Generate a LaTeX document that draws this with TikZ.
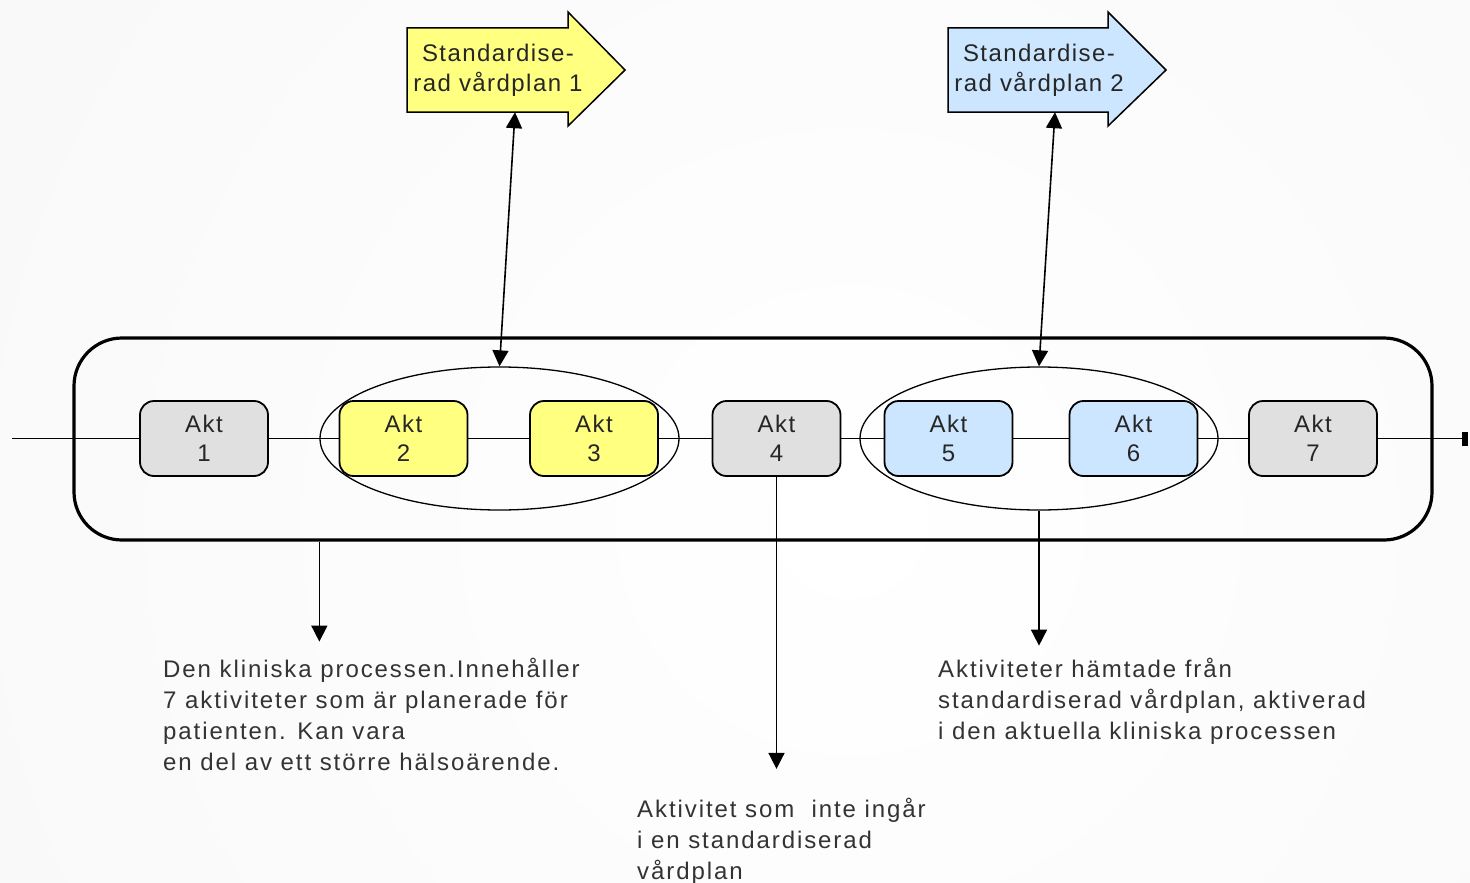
\documentclass[tikz,border=0pt]{standalone}
\usepackage{fontspec}
\setmainfont{Liberation Sans}
\usetikzlibrary{shapes.geometric,arrows.meta}
\definecolor{aktgray}{HTML}{E0E0E0}
\definecolor{aktyellow}{HTML}{FFFF80}
\definecolor{aktblue}{HTML}{CCE6FF}
\begin{document}
\begin{tikzpicture}[x=1pt,y=-1pt,
  akt/.style={draw, line width=1.8pt, rounded corners=14pt, minimum width=128pt,
    minimum height=75pt, inner sep=0pt, align=center,
    font=\fontsize{24}{29}\selectfont\addfontfeature{LetterSpace=6}, text=black!85},
  grp/.style={draw, ellipse, line width=1.3pt, minimum width=359pt, minimum height=143pt, inner sep=0pt},
  conn/.style={line width=1.6pt},
  tip/.style={-{Triangle[width=16pt,length=16pt]}},
  bigarrow/.style={draw, line width=1.5pt},
  lbl/.style={align=center, inner sep=0pt, font=\fontsize{24}{30}\selectfont\addfontfeature{LetterSpace=6}, text=black!85},
  note/.style={align=left, inner sep=0pt, anchor=north west,
    font=\fontsize{24}{31}\selectfont\addfontfeature{LetterSpace=8}, text=black!80}
]
\useasboundingbox (0,0) rectangle (1470,883);
\begin{scope}
  \clip (0,0) rectangle (1470,883);
  \fill[black!5] (0,0) rectangle (1470,883);
  \shade[inner color=white, outer color=black!5] (850,520) circle (2000pt);
\end{scope}

% process container
\node[draw, line width=3.2pt, rounded corners=48pt, minimum width=1358pt, minimum height=202pt] (proc) at (753,439) {};

% activities
\node[akt, fill=aktgray]   (a1) at (204,438.5)  {Akt\\1};
\node[akt, fill=aktyellow] (a2) at (403.5,438.5) {Akt\\2};
\node[akt, fill=aktyellow] (a3) at (594,438.5)  {Akt\\3};
\node[akt, fill=aktgray]   (a4) at (776.5,438.5) {Akt\\4};
\node[akt, fill=aktblue]   (a5) at (948.5,438.5) {Akt\\5};
\node[akt, fill=aktblue]   (a6) at (1133.5,438.5) {Akt\\6};
\node[akt, fill=aktgray]   (a7) at (1313,438.5) {Akt\\7};

% groups
\node[grp] (e1) at (499.5,438.5) {};
\node[grp, minimum width=358pt] (e2) at (1039,438.5) {};

% flow line
\coordinate (lstart) at (12,438.5);
\coordinate (lend) at (1468,438.5);
\draw[conn] (lstart) -- (a1.west);
\draw[conn] (a1.east) -- (a2.west);
\draw[conn] (a2.east) -- (a3.west);
\draw[conn] (a3.east) -- (a4.west);
\draw[conn] (a4.east) -- (a5.west);
\draw[conn] (a5.east) -- (a6.west);
\draw[conn] (a6.east) -- (a7.west);
\draw[conn, -{Rectangle[length=6pt,width=14pt]}] (a7.east) -- (lend);

% standardised care plans
\draw[bigarrow, fill=aktyellow] (407,28) -- (568,28) -- (568,12) -- (625,70) -- (568,126) -- (568,112) -- (407,112) -- cycle;
\node[minimum width=161pt, minimum height=84pt, inner sep=0pt] (sv1) at (487.5,70) {};
\node[lbl] (sv1t) at (498,70) {Standardise-\\rad vårdplan 1};

\draw[bigarrow, fill=aktblue] (948,28) -- (1108,28) -- (1108,12) -- (1166,70) -- (1108,126) -- (1108,112) -- (948,112) -- cycle;
\node[minimum width=160pt, minimum height=84pt, inner sep=0pt] (sv2) at (1028,70) {};
\node[lbl] (sv2t) at (1039,70) {Standardise-\\rad vårdplan 2};

\draw[conn, {Triangle[width=16pt,length=16pt]}-{Triangle[width=16pt,length=16pt]}] ([xshift=27.5pt]sv1.south) -- (e1.north);
\draw[conn, {Triangle[width=16pt,length=16pt]}-{Triangle[width=16pt,length=16pt]}] ([xshift=27pt]sv2.south) -- (e2.north);

% notes
\node[note] (t1) at (163,658) {Den kliniska processen.Innehåller\\7 aktiviteter som är planerade för\\patienten. Kan vara\\en del av ett större hälsoärende.};
\node[note] (t2) at (637,798) {Aktivitet som \ inte ingår\\i en standardiserad\\vårdplan};
\node[note] (t3) at (938,658) {Aktiviteter hämtade från\\standardiserad vårdplan, aktiverad\\i den aktuella kliniska processen};

\draw[conn, tip] (e1.west |- proc.south) -- ++(0,100);
\draw[conn, tip] (a4.south) -- ++(0,292);
\draw[conn, tip] (e2.south) -- ++(0,135);
\end{tikzpicture}
\end{document}
